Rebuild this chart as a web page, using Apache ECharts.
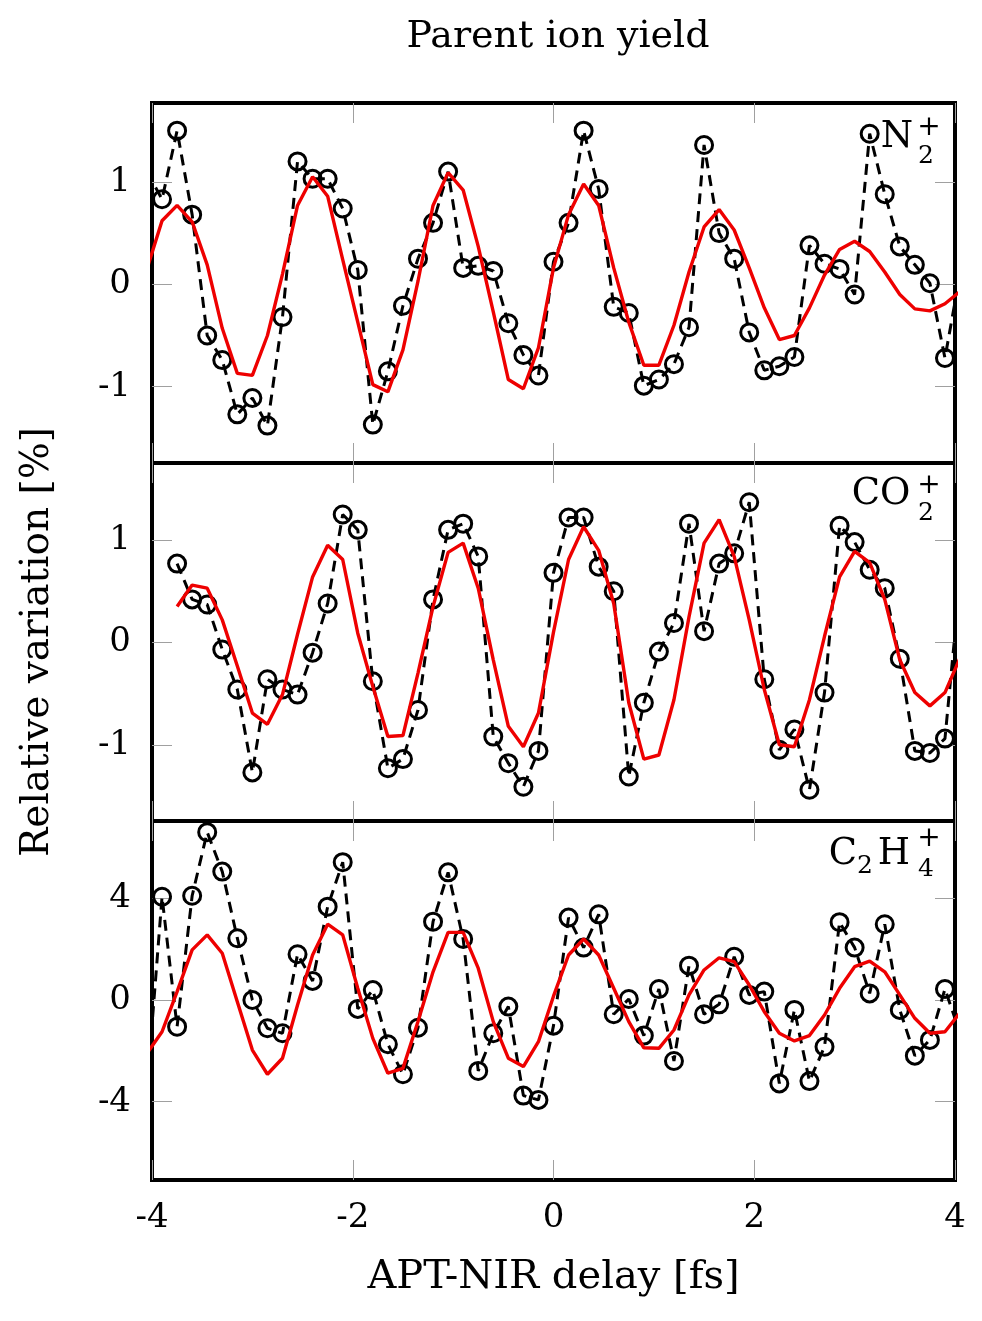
<!DOCTYPE html>
<html>
<head>
<meta charset="utf-8">
<script src="https://cdn.jsdelivr.net/npm/echarts@6/dist/echarts.min.js"></script>
<style>
html,body{margin:0;padding:0;background:#fff;}
#chart{width:982px;height:1321px;}
</style>
</head>
<body>
<div id="chart"></div>
<script>
// ---- data ----
const delays = [-4.05,-3.9,-3.75,-3.6,-3.45,-3.3,-3.15,-3.0,-2.85,-2.7,-2.55,-2.4,-2.25,-2.1,-1.95,-1.8,-1.65,-1.5,-1.35,-1.2,-1.05,-0.9,-0.75,-0.6,-0.45,-0.3,-0.15,0,0.15,0.3,0.45,0.6,0.75,0.9,1.05,1.2,1.35,1.5,1.65,1.8,1.95,2.1,2.25,2.4,2.55,2.7,2.85,3.0,3.15,3.3,3.45,3.6,3.75,3.9,4.05];

const n2Measured = [1.1,0.83,1.5,0.68,-0.5,-0.74,-1.27,-1.11,-1.38,-0.32,1.2,1.03,1.03,0.74,0.14,-1.37,-0.85,-0.21,0.25,0.6,1.1,0.16,0.18,0.13,-0.38,-0.69,-0.89,0.22,0.6,1.5,0.93,-0.22,-0.28,-0.99,-0.93,-0.78,-0.42,1.36,0.5,0.25,-0.47,-0.84,-0.8,-0.71,0.38,0.2,0.15,-0.1,1.47,0.88,0.37,0.19,0.01,-0.72,0.1];
const n2Model = [0.15,0.62,0.77,0.61,0.19,-0.43,-0.87,-0.89,-0.5,0.1,0.77,1.05,0.86,0.24,-0.37,-0.98,-1.05,-0.64,0.03,0.77,1.09,0.92,0.37,-0.27,-0.93,-1.02,-0.62,0.16,0.68,0.98,0.77,0.16,-0.37,-0.79,-0.79,-0.4,0.12,0.56,0.73,0.53,0.16,-0.23,-0.54,-0.5,-0.23,0.09,0.34,0.42,0.32,0.12,-0.1,-0.24,-0.26,-0.19,-0.07];

const co2Measured = [null,null,0.77,0.42,0.37,-0.07,-0.46,-1.27,-0.36,-0.46,-0.51,-0.1,0.38,1.25,1.1,-0.38,-1.23,-1.14,-0.66,0.42,1.1,1.16,0.84,-0.92,-1.18,-1.41,-1.06,0.68,1.22,1.22,0.74,0.5,-1.31,-0.59,-0.09,0.19,1.16,0.11,0.77,0.87,1.37,-0.36,-1.05,-0.85,-1.44,-0.49,1.14,0.98,0.71,0.53,-0.16,-1.06,-1.08,-0.94,0.6];
const co2Model = [null,null,0.35,0.56,0.53,0.22,-0.23,-0.69,-0.8,-0.51,0.08,0.64,0.95,0.81,0.09,-0.43,-0.92,-0.91,-0.3,0.35,0.88,0.97,0.53,-0.17,-0.82,-1.02,-0.69,0.1,0.81,1.13,0.9,0.38,-0.59,-1.14,-1.1,-0.56,0.25,0.97,1.2,0.84,0.22,-0.46,-1.0,-1.02,-0.56,0.06,0.64,0.89,0.78,0.42,-0.17,-0.49,-0.62,-0.49,-0.15];

const c2h4Measured = [-3.5,4.06,-1.05,4.1,6.6,5.05,2.43,0.0,-1.11,-1.31,1.8,0.75,3.67,5.42,-0.35,0.39,-1.74,-2.92,-1.09,3.08,5.02,2.4,-2.79,-1.31,-0.26,-3.76,-3.93,-1.01,3.24,2.06,3.37,-0.56,0.04,-1.4,0.43,-2.4,1.35,-0.56,-0.17,1.7,0.2,0.33,-3.28,-0.39,-3.19,-1.84,3.06,2.06,0.26,2.98,-0.39,-2.19,-1.57,0.43,-1.3];
const c2h4Model = [-2.1,-1.25,0.33,1.97,2.56,1.84,-0.07,-1.97,-2.92,-2.29,-0.2,1.77,2.98,2.56,0.46,-1.51,-2.88,-2.69,-0.85,1.11,2.66,2.66,1.25,-0.85,-2.29,-2.62,-1.64,0.15,1.77,2.4,1.77,0.46,-0.85,-1.88,-1.9,-1.18,0.2,1.18,1.66,1.51,0.59,-0.46,-1.31,-1.61,-1.4,-0.59,0.46,1.31,1.53,1.11,0.2,-0.72,-1.31,-1.25,-0.5];

const xTicks = [-4,-2,0,2,4];
const yTicksTop = [-1,0,1];
const yTicksMid = [-1,0,1];
const yTicksBot = [-4,0,4];

const titleText = 'Parent ion yield';
const xName = 'APT-NIR delay [fs]';
const yName = 'Relative variation [%]';

// ---- chart ----
const FONT = '"DejaVu Serif", "Liberation Serif", serif';
function pairs(vals){ return delays.map((d,i)=> vals[i]==null ? null : [d, vals[i]]).filter(p=>p!==null); }

const panels = [
  {top:103, height:360, min:-1.745, max:1.77, ticks:yTicksTop, meas:n2Measured, model:n2Model},
  {top:463, height:358, min:-1.745, max:1.753, ticks:yTicksMid, meas:co2Measured, model:co2Model},
  {top:821, height:359, min:-7.08, max:7.04, ticks:yTicksBot, meas:c2h4Measured, model:c2h4Model}
];

const tickStyle = {show:true, inside:true, length:20, lineStyle:{color:'#a0a0a0', width:1}};
const grids=[], xAxes=[], yAxes=[], series=[];
panels.forEach((p,i)=>{
  grids.push({left:152, width:803, top:p.top, height:p.height, show:true, borderColor:'#000', borderWidth:4, backgroundColor:'rgba(0,0,0,0)', containLabel:false});
  const isBottom = i===2;
  xAxes.push({type:'value', gridIndex:i, min:-4, max:4, interval:2, position:'bottom',
    axisLine:{show:false, onZero:false}, splitLine:{show:false}, axisTick:tickStyle,
    axisLabel:{show:isBottom, customValues:xTicks, margin:21, fontFamily:FONT, fontSize:34, color:'#000'},
    name: isBottom ? xName : '', nameLocation:'middle', nameGap:78,
    nameTextStyle:{fontFamily:FONT, fontSize:40, color:'#000'}});
  xAxes.push({type:'value', gridIndex:i, min:-4, max:4, interval:2, position:'top',
    axisLine:{show:false, onZero:false}, splitLine:{show:false}, axisTick:tickStyle, axisLabel:{show:false}});
  yAxes.push({type:'value', gridIndex:i, min:p.min, max:p.max, position:'left',
    axisLine:{show:false, onZero:false}, splitLine:{show:false},
    axisTick:Object.assign({customValues:p.ticks}, tickStyle),
    axisLabel:{customValues:p.ticks, margin:21, fontFamily:FONT, fontSize:34, color:'#000'},
    name: i===1 ? yName : '', nameLocation:'middle', nameRotate:90, nameGap:95,
    nameTextStyle:{fontFamily:FONT, fontSize:39, color:'#000'}});
  yAxes.push({type:'value', gridIndex:i, min:p.min, max:p.max, position:'right',
    axisLine:{show:false, onZero:false}, splitLine:{show:false},
    axisTick:Object.assign({customValues:p.ticks}, tickStyle), axisLabel:{show:false}});
  series.push({type:'line', xAxisIndex:2*i, yAxisIndex:2*i, data:pairs(p.meas), clip:true, z:2,
    symbol:'circle', symbolSize:17, showSymbol:true,
    itemStyle:{color:'rgba(0,0,0,0)', borderColor:'#000', borderWidth:3},
    lineStyle:{color:'#000', width:3, type:[11,7]}, emphasis:{disabled:true}, silent:true});
  series.push({type:'line', xAxisIndex:2*i, yAxisIndex:2*i, data:pairs(p.model), clip:true, z:3,
    symbol:'none', lineStyle:{color:'#ee0000', width:3.4}, emphasis:{disabled:true}, silent:true});
});

function txt(t, x, y, size){ return {type:'text', x:x, y:y, z:100, style:{text:t, fontFamily:FONT, fontSize:size, fill:'#000', align:'center', verticalAlign:'middle'}}; }

const graphics = [
  txt('N', 897, 137, 37), txt('2', 926, 156, 25), txt('+', 929, 128, 28),
  txt('CO', 881, 494, 37), txt('2', 926, 513, 25), txt('+', 929, 486, 28),
  txt('C', 843, 854, 37), txt('2', 865, 866, 25), txt('H', 894, 854, 37), txt('4', 926, 869, 25), txt('+', 929, 839, 28)
];

const chart = echarts.init(document.getElementById('chart'), null, {renderer:'canvas'});
chart.setOption({
  animation:false,
  backgroundColor:'#fff',
  title:{text:titleText, left:553, top:13, textAlign:'center', textStyle:{fontFamily:FONT, fontSize:38, fontWeight:'normal', color:'#000'}},
  grid:grids, xAxis:xAxes, yAxis:yAxes, series:series, graphic:graphics
});
</script>
</body>
</html>
